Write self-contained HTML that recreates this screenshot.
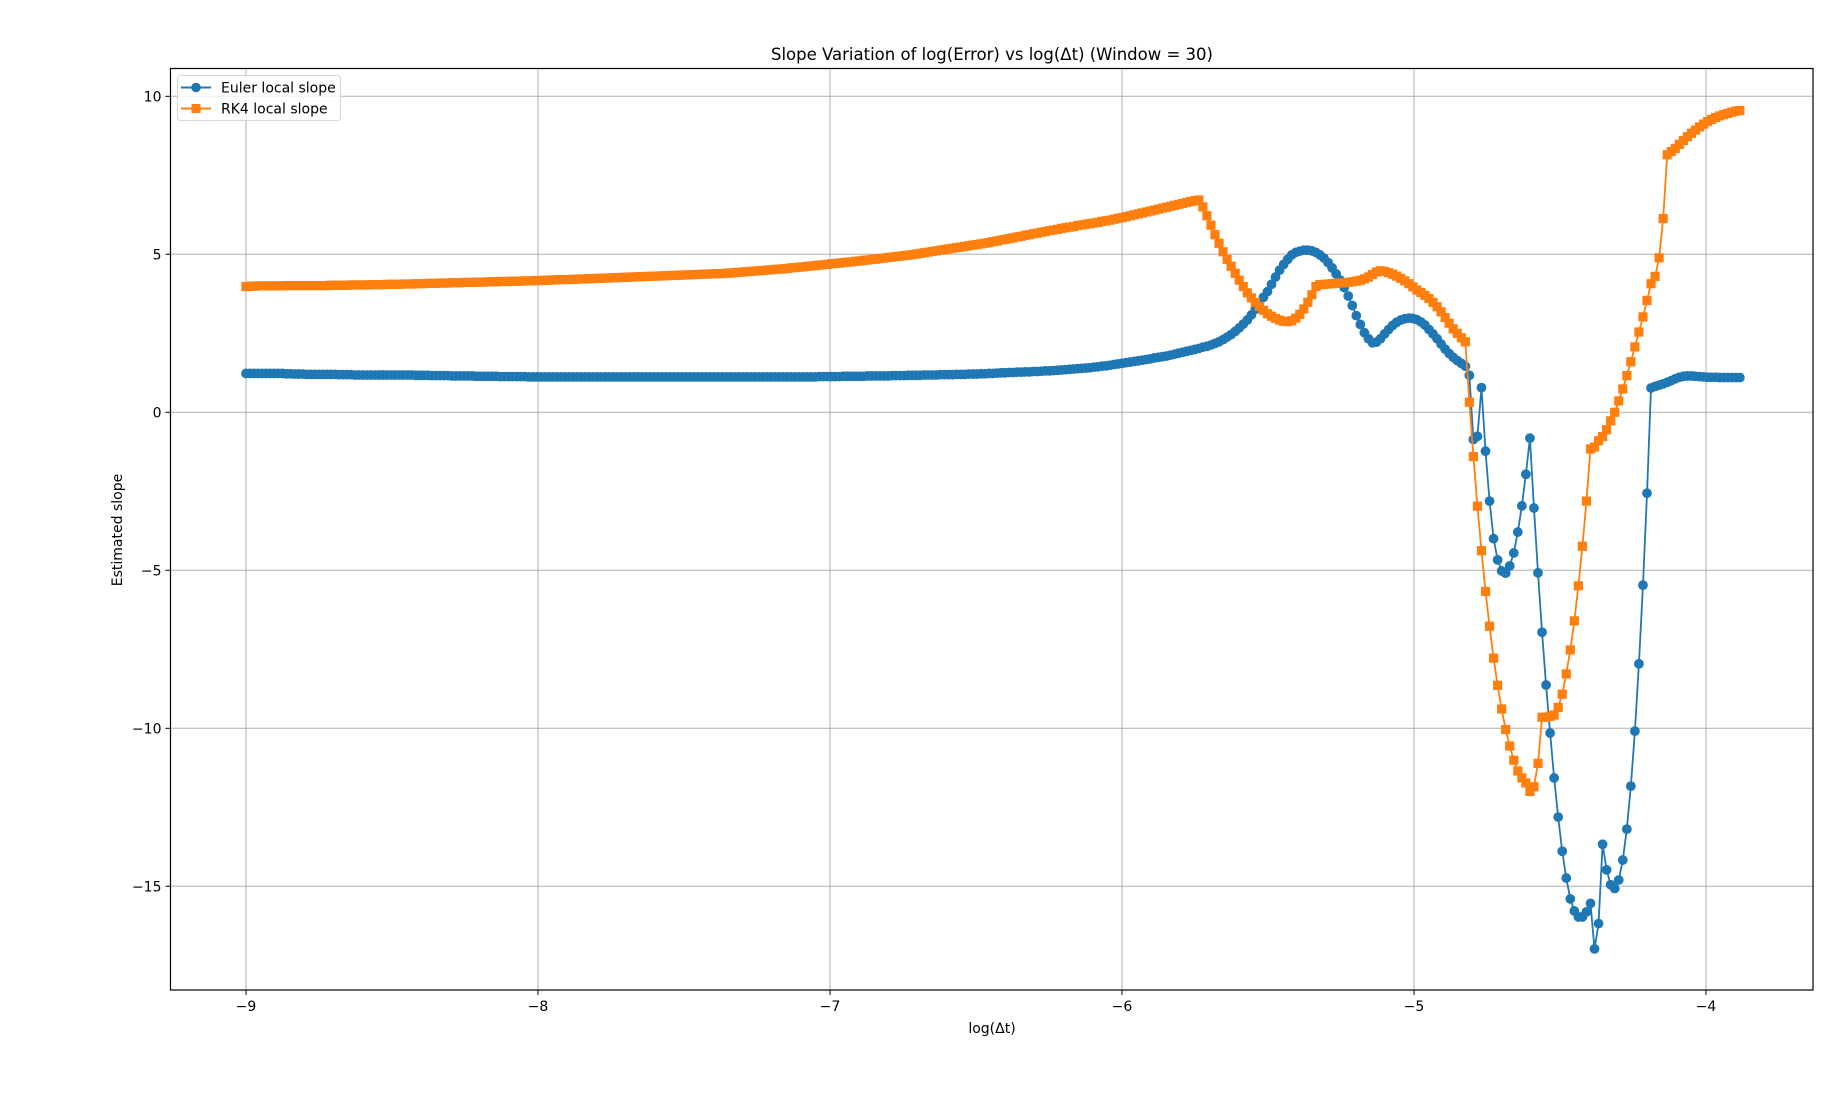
<!DOCTYPE html>
<html><head><meta charset="utf-8"><style>
html,body{margin:0;padding:0;background:#fff;}
svg{display:block;font-family:"DejaVu Sans","Liberation Sans",sans-serif;}
</style></head><body>
<svg id="chart" width="1848" height="1097" viewBox="0 0 1848 1097" xmlns="http://www.w3.org/2000/svg">
<rect x="0" y="0" width="1848" height="1097" fill="#fff"/>
<g id="grid"></g>
<g id="series"></g>
<rect x="170.5" y="68.5" width="1642.5" height="921.5" fill="none" stroke="#000" stroke-width="1.2"/>
<g id="ticks"></g>
<text x="992" y="60" font-size="16.5" text-anchor="middle">Slope Variation of log(Error) vs log(Δt) (Window = 30)</text>
<text x="992" y="1033" font-size="14" text-anchor="middle">log(Δt)</text>
<text x="0" y="0" font-size="14" text-anchor="middle" transform="translate(122,530) rotate(-90)">Estimated slope</text>
<g>
<rect x="177.5" y="75.5" width="163" height="45" rx="3" fill="#fff" fill-opacity="0.8" stroke="#d6d6d6"/>
<g>
<line x1="181" y1="87.5" x2="211" y2="87.5" stroke="#1f77b4" stroke-width="2"/>
<circle cx="196" cy="87.5" r="4.8" fill="#1f77b4"/>
<text x="221" y="92.5" font-size="14">Euler local slope</text>
</g>
<g>
<line x1="181" y1="108.5" x2="211" y2="108.5" stroke="#ff7f0e" stroke-width="2"/>
<rect x="191.5" y="104" width="9" height="9" fill="#ff7f0e"/>
<text x="221" y="113.5" font-size="14">RK4 local slope</text>
</g>
</g>
</svg>
<script>
const xTicks = [-9,-8,-7,-6,-5,-4];
const yTicks = [-15,-10,-5,0,5,10];
const xStart = -9;
const xStep = 0.013827;
const eulerSlope = [
1.23,1.23,1.23,1.23,1.23,1.23,1.23,1.23,1.23,1.23,
1.22,1.22,1.21,1.21,1.21,1.20,1.20,1.20,1.20,1.20,
1.20,1.20,1.20,1.19,1.19,1.19,1.19,1.18,1.18,1.18,
1.18,1.18,1.18,1.18,1.18,1.18,1.18,1.18,1.18,1.18,
1.18,1.18,1.17,1.17,1.17,1.17,1.16,1.16,1.16,1.16,
1.16,1.15,1.15,1.15,1.15,1.15,1.15,1.14,1.14,1.14,
1.14,1.14,1.14,1.13,1.13,1.13,1.13,1.13,1.13,1.13,
1.12,1.12,1.12,1.12,1.12,1.12,1.12,1.12,1.12,1.12,
1.12,1.12,1.12,1.12,1.12,1.12,1.12,1.12,1.12,1.12,
1.12,1.12,1.12,1.12,1.12,1.12,1.12,1.12,1.12,1.12,
1.12,1.12,1.12,1.12,1.12,1.12,1.12,1.12,1.12,1.12,
1.12,1.12,1.12,1.12,1.12,1.12,1.12,1.12,1.12,1.12,
1.12,1.12,1.12,1.12,1.12,1.12,1.12,1.12,1.12,1.12,
1.12,1.12,1.12,1.12,1.12,1.12,1.12,1.12,1.12,1.12,
1.12,1.12,1.13,1.13,1.13,1.13,1.13,1.13,1.14,1.14,
1.14,1.14,1.14,1.14,1.15,1.15,1.15,1.15,1.15,1.15,
1.16,1.16,1.16,1.16,1.17,1.17,1.17,1.17,1.18,1.18,
1.18,1.18,1.19,1.19,1.19,1.19,1.20,1.20,1.20,1.21,
1.21,1.21,1.22,1.22,1.23,1.23,1.24,1.25,1.25,1.26,
1.26,1.27,1.27,1.28,1.28,1.29,1.29,1.30,1.31,1.31,
1.32,1.33,1.34,1.35,1.36,1.37,1.38,1.39,1.40,1.41,
1.43,1.44,1.46,1.47,1.49,1.51,1.53,1.55,1.57,1.59,
1.61,1.63,1.65,1.67,1.69,1.72,1.74,1.76,1.78,1.81,
1.84,1.87,1.90,1.93,1.96,1.99,2.02,2.06,2.09,2.13,
2.18,2.23,2.30,2.38,2.46,2.56,2.67,2.79,2.92,3.08,
3.26,3.46,3.64,3.82,4.05,4.28,4.50,4.68,4.84,4.98,
5.06,5.10,5.13,5.13,5.11,5.06,4.98,4.88,4.74,4.57,
4.38,4.18,3.95,3.68,3.38,3.06,2.78,2.52,2.33,2.20,
2.22,2.33,2.48,2.62,2.75,2.85,2.92,2.96,2.98,2.97,
2.93,2.86,2.76,2.62,2.48,2.33,2.16,2.00,1.86,1.74,
1.64,1.55,1.46,1.17,
-0.86,-0.76,0.78,-1.23,-2.81,-4.0,-4.67,-5.02,-5.09,-4.86,
-4.45,-3.79,-2.96,-1.96,-0.82,-3.03,-5.08,-6.96,-8.63,-10.15,
-11.57,-12.81,-13.89,-14.74,-15.40,-15.78,-15.97,-15.97,-15.81,-15.54,
-16.98,-16.18,-13.67,-14.48,-14.95,-15.07,-14.80,-14.17,-13.19,-11.83,
-10.09,-7.96,-5.47,-2.56,0.77,
0.82,0.86,0.90,0.95,1.00,1.06,1.11,1.14,1.15,1.15,
1.14,1.13,1.12,1.11,1.11,1.11,1.10,1.10,1.10,1.10,1.10,1.10
];
const rk4Slope = [
3.98,3.99,3.99,4.00,4.00,4.00,4.00,4.00,4.00,4.00,
4.01,4.01,4.01,4.01,4.01,4.01,4.01,4.01,4.01,4.01,
4.01,4.02,4.02,4.02,4.02,4.02,4.03,4.03,4.03,4.03,
4.03,4.04,4.04,4.04,4.04,4.05,4.05,4.05,4.05,4.06,
4.06,4.06,4.07,4.07,4.07,4.08,4.08,4.08,4.09,4.09,
4.09,4.10,4.10,4.10,4.11,4.11,4.11,4.12,4.12,4.12,
4.13,4.13,4.13,4.14,4.14,4.14,4.15,4.15,4.15,4.16,
4.16,4.16,4.17,4.17,4.18,4.18,4.19,4.19,4.20,4.20,
4.20,4.21,4.21,4.22,4.22,4.23,4.23,4.24,4.24,4.25,
4.25,4.26,4.26,4.27,4.27,4.28,4.28,4.29,4.29,4.30,
4.30,4.31,4.31,4.32,4.32,4.33,4.33,4.34,4.34,4.35,
4.35,4.36,4.36,4.37,4.37,4.38,4.38,4.39,4.39,4.40,
4.41,4.42,4.43,4.44,4.45,4.46,4.47,4.48,4.49,4.50,
4.51,4.52,4.53,4.54,4.55,4.57,4.58,4.59,4.60,4.62,
4.63,4.64,4.66,4.67,4.68,4.70,4.71,4.72,4.74,4.75,
4.76,4.78,4.79,4.81,4.82,4.84,4.85,4.87,4.88,4.90,
4.91,4.93,4.94,4.96,4.97,4.99,5.01,5.03,5.05,5.07,
5.09,5.11,5.13,5.15,5.17,5.19,5.21,5.23,5.25,5.27,
5.29,5.31,5.33,5.35,5.37,5.40,5.42,5.45,5.47,5.50,
5.52,5.55,5.57,5.60,5.62,5.65,5.67,5.70,5.72,5.75,
5.77,5.79,5.82,5.84,5.86,5.88,5.91,5.93,5.95,5.97,
5.99,6.01,6.04,6.06,6.08,6.11,6.14,6.16,6.19,6.22,
6.25,6.28,6.31,6.34,6.37,6.40,6.43,6.46,6.49,6.52,
6.55,6.58,6.61,6.64,6.67,6.70,6.72,
6.50,6.22,5.92,5.62,5.35,5.08,4.84,4.62,4.40,4.18,
3.98,3.78,3.62,3.48,3.35,3.23,3.12,3.04,2.97,2.92,2.88,2.87,
2.90,2.98,3.10,3.27,3.48,3.72,3.98,4.04,
4.05,4.06,4.07,4.08,4.09,4.10,4.11,4.13,4.15,4.18,4.22,4.28,4.36,4.44,4.48,
4.46,4.42,4.37,4.31,4.24,4.16,4.07,3.97,3.87,3.79,3.70,3.60,3.48,3.34,3.18,3.00,2.82,2.64,2.50,2.36,2.23,
0.32,-1.40,-2.97,-4.38,-5.67,-6.77,-7.78,-8.64,-9.39,-10.04,
-10.56,-11.01,-11.35,-11.57,-11.73,-12.0,-11.85,-11.11,-9.65,-9.65,-9.62,
-9.58,-9.34,-8.92,-8.28,-7.52,-6.60,-5.49,-4.24,-2.81,-1.16,
-1.10,-0.90,-0.77,-0.55,-0.27,0.0,0.36,0.74,1.16,1.6,
2.07,2.54,3.02,3.54,4.07,4.3,4.89,6.13,
8.15,8.25,8.35,8.48,8.60,8.72,8.83,8.93,9.03,9.12,
9.20,9.27,9.33,9.38,9.42,9.46,9.50,9.53,9.55
];
const NS='http://www.w3.org/2000/svg';
const L=170.5,R=1813,T=68.5,B=990;
function xs(u){return 246+292*(u+9);}
function ys(v){return 412.3-31.6*v;}
function mk(tag,attrs,parent){const e=document.createElementNS(NS,tag);for(const k in attrs)e.setAttribute(k,attrs[k]);parent.appendChild(e);return e;}
const grid=document.getElementById('grid'),ticks=document.getElementById('ticks'),series=document.getElementById('series');
xTicks.forEach(t=>{
  const x=xs(t);
  const g=mk('line',{x1:x,y1:T,x2:x,y2:B,stroke:'#b0b0b0','stroke-width':1},grid);
  
  
  const tk=mk('line',{x1:x,y1:B,x2:x,y2:B+5,stroke:'#000','stroke-width':1},ticks);
  
  
  const lb=mk('text',{x:x,y:B+21,'font-size':14,'text-anchor':'middle'},ticks);
  
  
  lb.textContent=(t<0?'\u2212':'')+Math.abs(t);
});
yTicks.forEach(t=>{
  const y=ys(t);
  const g=mk('line',{x1:L,y1:y,x2:R,y2:y,stroke:'#b0b0b0','stroke-width':1},grid);
  
  
  const tk=mk('line',{x1:L-5,y1:y,x2:L,y2:y,stroke:'#000','stroke-width':1},ticks);
  
  
  const lb=mk('text',{x:L-9,y:y+5,'font-size':14,'text-anchor':'end'},ticks);
  
  
  lb.textContent=(t<0?'\u2212':'')+Math.abs(t);
});
function drawSeries(vals,color,shape,name){
  const g=mk('g',{},series);
  
  
  const pts=vals.map((v,i)=>xs(xStart+i*xStep).toFixed(2)+','+ys(v).toFixed(2)).join(' ');
  const pl=mk('polyline',{points:pts,fill:'none',stroke:color,'stroke-width':1.8,'stroke-linejoin':'round'},g);
  
  
  vals.forEach((v,i)=>{
    const x=xs(xStart+i*xStep),y=ys(v);
    let m;
    if(shape==='circle'){m=mk('circle',{cx:x,cy:y,r:4.9,fill:color},g);}
    else{m=mk('rect',{x:x-4.6,y:y-4.6,width:9.2,height:9.2,fill:color},g);}
    
    
  });
}
drawSeries(eulerSlope,'#1f77b4','circle','euler-series');
drawSeries(rk4Slope,'#ff7f0e','square','rk4-series');
</script>
</body></html>
